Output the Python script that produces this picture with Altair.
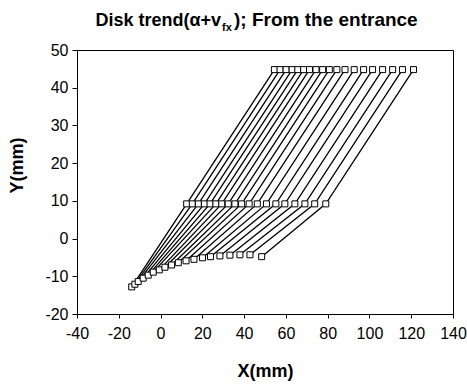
import altair as alt
import pandas as pd

# Bottom curve points (start of each trace)
bottom_x = [-13.8, -12.3, -10.7, -8.3, -5.9, -3.5, -0.6, 2.1, 5.3, 8.5, 12.2, 16.0, 20.1, 23.9, 28.4, 33.2, 38.0, 42.8, 48.4]
bottom_y = [-12.8, -12.1, -11.4, -10.5, -9.7, -8.9, -8.3, -7.6, -7.0, -6.4, -5.9, -5.5, -5.1, -4.8, -4.6, -4.4, -4.3, -4.3, -4.8]
# Middle row points
mid_x = [12.5, 15.2, 18.1, 21.0, 23.7, 26.5, 29.3, 32.4, 35.6, 38.8, 42.4, 46.3, 50.7, 55.2, 59.5, 64.3, 69.1, 73.8, 79.1]
mid_y = [9.2] * 19
# Top row points
top_x = [54.5, 57.2, 60.1, 63.0, 65.7, 68.5, 71.3, 74.4, 77.6, 80.8, 84.4, 88.3, 92.7, 97.2, 101.5, 106.3, 111.1, 115.8, 121.1]
top_y = [44.8] * 19

x_ticks = [-40, -20, 0, 20, 40, 60, 80, 100, 120, 140]
y_ticks = [-20, -10, 0, 10, 20, 30, 40, 50]

rows = []
for i in range(len(bottom_x)):
    rows.append({"trace": i, "seq": 0, "x": bottom_x[i], "y": bottom_y[i]})
    rows.append({"trace": i, "seq": 1, "x": mid_x[i], "y": mid_y[i]})
    rows.append({"trace": i, "seq": 2, "x": top_x[i], "y": top_y[i]})
df = pd.DataFrame(rows)

FONT = "Liberation Sans"

xs = alt.Scale(domain=[-40, 140], nice=False, zero=False)
ys = alt.Scale(domain=[-20, 50], nice=False, zero=False)

x_axis = alt.Axis(
    values=x_ticks, tickCount=10, title="X(mm)", grid=False, tickSize=4, labelPadding=7,
    labelFontSize=16, labelFont=FONT, labelColor="black", labelOverlap=False, labelFlush=False,
    labelExpr="datum.value + ''",
    titleFont=FONT, titleFontSize=18, titleFontWeight="bold", titleColor="black",
    titleY=57, titleBaseline="middle", domainColor="black", tickColor="black")
y_axis = alt.Axis(
    values=y_ticks, tickCount=8, title="Y(mm)", grid=False, tickSize=5, labelPadding=4,
    labelFontSize=16, labelFont=FONT, labelColor="black", labelOverlap=False, labelFlush=False,
    labelExpr="datum.value + ''",
    titleFont=FONT, titleFontSize=18, titleFontWeight="bold", titleColor="black",
    titleX=-60, titleY=115, titleBaseline="middle", domainColor="black", tickColor="black")

base = alt.Chart(df).encode(
    x=alt.X("x:Q", scale=xs, axis=x_axis),
    y=alt.Y("y:Q", scale=ys, axis=y_axis),
)
lines = base.mark_line(color="black", strokeWidth=1.3).encode(
    detail="trace:N", order="seq:Q")
pts = base.mark_point(shape="square", filled=True, fill="white", stroke="black",
                      strokeWidth=1, size=36, opacity=1)

title_df = pd.DataFrame({"a": [0]})
t1 = alt.Chart(title_df).mark_text(text="Disk trend(α+v", font=FONT, fontSize=18, fontWeight="bold",
                                   align="right", baseline="alphabetic", color="black").encode(
    x=alt.value(144), y=alt.value(-24))
t2 = alt.Chart(title_df).mark_text(text="fx", font=FONT, fontSize=11, fontWeight="bold",
                                   align="left", baseline="alphabetic", color="black").encode(
    x=alt.value(145), y=alt.value(-19))
t3 = alt.Chart(title_df).mark_text(text="); From the entrance", font=FONT, fontSize=19, fontWeight="bold",
                                   align="left", baseline="alphabetic", color="black").encode(
    x=alt.value(157), y=alt.value(-24))

chart = alt.layer(lines, pts, t1, t2, t3).properties(
    width=376, height=264,
    padding={"left": 77, "top": 50, "right": 14, "bottom": 71},
    autosize=alt.AutoSizeParams(type="none"),
    background="white",
).configure_view(stroke="black", strokeWidth=1)

chart.save("out.html", embed_options={"renderer": "svg", "actions": False})
